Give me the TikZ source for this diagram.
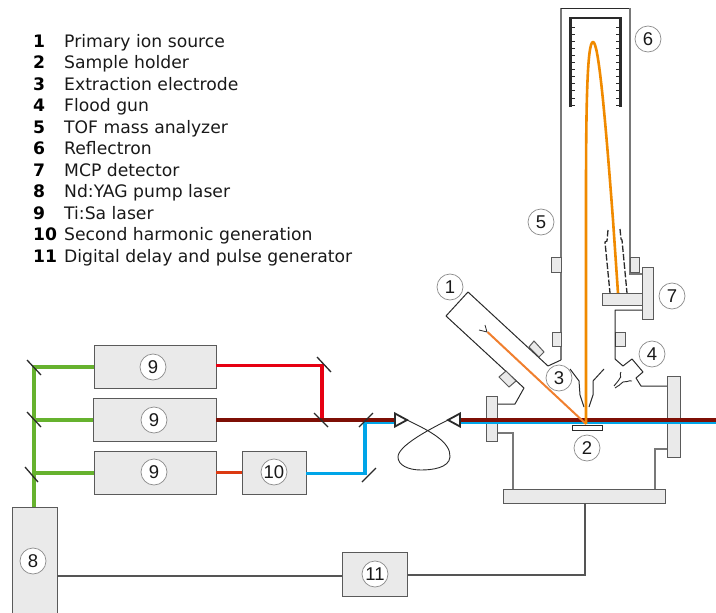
\documentclass[tikz,border=0pt]{standalone}
\usepackage{fontspec}
\setmainfont{DejaVu Sans}
\newfontfamily\numfont{Liberation Sans}
\definecolor{boxfill}{HTML}{EAEAEA}
\definecolor{boxline}{HTML}{5A5A5A}
\definecolor{wall}{HTML}{787878}
\definecolor{ink}{HTML}{2A2A2A}
\definecolor{tofor}{HTML}{F08A00}
\definecolor{ionor}{HTML}{F07F2E}
\definecolor{grn}{HTML}{66B22E}
\definecolor{redb}{HTML}{E60012}
\definecolor{dred}{HTML}{7E0F05}
\definecolor{blu}{HTML}{00A5E8}
\definecolor{shg}{HTML}{DC3A12}
\tikzset{
  boxn/.style={draw=boxline,fill=boxfill,line width=1pt,inner sep=0pt,outer sep=0pt},
  num/.style={circle,draw=gray!90,fill=white,line width=0.7pt,minimum size=26pt,inner sep=0pt,font=\numfont\fontsize{18.5}{18.5}\selectfont,text=black!90},
  wallline/.style={draw=wall,line width=1.5pt},
  thinline/.style={draw=ink,line width=1pt,line join=miter},
  conn/.style={draw=ink!80,line width=1.4pt},
  beam/.style={line width=3.8pt,line join=miter},
  mirror/.style={draw=ink,line width=1.3pt},
  legn/.style={anchor=base west,inner sep=0pt,font=\fontsize{17.2}{17.2}\selectfont,text=black!90},
  legk/.style={anchor=base west,inner sep=0pt,font=\bfseries\fontsize{17.2}{17.2}\selectfont,text=black},
  tri/.style={draw=ink,fill=white,line width=1.8pt,line join=miter},
  griddash/.style={draw=ink,line width=1.3pt,dash pattern=on 6.5pt off 2pt}
}
\newcommand{\rbox}[5]{\node[boxn,minimum width={(#4-#2)*1pt},minimum height={(#5-#3)*1pt}] (#1) at ({(#2+#4)/2},{(#3+#5)/2}) {};}
\begin{document}
\begin{tikzpicture}[x=1pt,y=-1pt]
\useasboundingbox (0,0) rectangle (716,613);
% legend
\foreach \k/\t/\y in {1/Primary ion source/47,2/Sample holder/68.5,3/Extraction electrode/90,4/Flood gun/111.5,5/TOF mass analyzer/133,6/Reflectron/154.5,7/MCP detector/176,8/Nd:YAG pump laser/197.5,9/Ti:Sa laser/219,10/Second harmonic generation/240.5,11/Digital delay and pulse generator/262}{
  \node[legk] (k\k) at (33,\y) {\k};
  \node[legn] (t\k) at (64,\y) {\t};
}
% vacuum tube
\coordinate (w1) at (561,360);
\coordinate (w2) at (561,8);
\coordinate (w3) at (630,8);
\coordinate (w4) at (630,274);
\coordinate (w5) at (642,274);
\draw[wallline] (w1) -- (561,258);
\draw[wallline] (561,258) -- (w2);
\draw[thinline] (w2) -- (w3);
\draw[wallline] (w3) -- (w4) -- (w5);
% small flanges on the tube
\rbox{f1}{551}{257}{561}{272}
\rbox{f2}{552}{332}{561}{346}
\rbox{f3}{630}{257}{639}{272}
\rbox{f4}{615}{332}{625}{346}
% reflectron
\draw[draw=ink,line width=2.4pt] (570.5,107) -- (570.5,18) -- (620.5,18) -- (620.5,107);
\foreach \n in {0,...,11}{
  \draw[draw=ink,line width=1pt] (570,{27+\n*7.1}) -- (575,{27+\n*7.1});
  \draw[draw=ink,line width=1pt] (621,{27+\n*7.1}) -- (616,{27+\n*7.1});
}
% ion source
\coordinate (s1) at (468,292);
\coordinate (s2) at (446,316);
\coordinate (s3) at (524,388);
\coordinate (s4) at (515,404);
\coordinate (s5) at (548,366);
\draw[thinline,line join=round] (w1) -- (s5) -- (s1) -- (s2) -- (s3) -- (s4) -- (497,404);
\draw[boxn] (534,341) -- (544,352) -- (539,357) -- (529,347) -- cycle;
\draw[boxn] (506,371) -- (516,381) -- (509,387) -- (499,377) -- cycle;
\draw[draw=ink,line width=0.8pt] (479,330) -- (487,332) -- (485,325);
% flood gun & right side
\draw[thinline,line join=round] (642,310) -- (615,310) -- (615,359) -- (623,366) -- (632,359) -- (643,372) -- (636,378) -- (641,386) -- (667,386);
\draw[draw=ink,line width=0.9pt] (621,372) .. controls (619,374) and (622,378) .. (620,378) .. controls (618,382) and (616,383) .. (614,386);
\draw[draw=ink,line width=0.9pt] (632,381) .. controls (628,380) and (626,383) .. (623,382) .. controls (620,384) and (618,387) .. (615,388);
% extraction electrode
\draw[thinline] (570,369) -- (579,381) -- (580,395) -- (584,407);
\draw[thinline] (604,369) -- (593,381) -- (593,395) -- (589,407);
% chamber
\draw[wallline] (667,449) -- (655,449) -- (655,489);
\draw[wallline] (497,433) -- (513,433) -- (513,489);
\rbox{detp}{602}{293}{642}{305}
\rbox{p7}{642}{267}{653}{319}
\rbox{pr}{667}{376}{680}{457}
\rbox{pl}{486}{396}{497}{441}
\rbox{pb}{503}{489}{665}{503}
\node[draw=ink,fill=white,line width=1pt,inner sep=0pt,minimum width=30pt,minimum height=4.5pt] (holder) at (587,428) {};
% detector grids
\draw[griddash] (608,230) -- (607,241) -- (605,242) -- (610,293);
\draw[griddash] (620,229) -- (621,239) -- (622,240) -- (627,293);
% control connectors
\rbox{b8}{12}{507}{57}{616}
\rbox{b11}{342}{552}{407}{596}
\draw[conn] (57,576) -- (b11.west |- 0,576);
\draw[conn] (407,575) -- (585,575) -- (pb.south -| 585,0);
% laser boxes
\rbox{b91}{94}{345}{216}{388}
\rbox{b92}{93}{398}{216}{441}
\rbox{b93}{94}{451}{216}{494}
\rbox{b10}{242}{451}{306}{494}
% beams
\draw[beam,grn] (34,507) -- (34,367) -- (b91.west |- 0,367);
\draw[beam,grn] (34,420) -- (b92.west |- 0,420);
\draw[beam,grn] (34,473) -- (b93.west |- 0,473);
\draw[line width=3pt,shg] (216,472.5) -- (242,472.5);
\draw[beam,blu] (306,473.5) -- (365,473.5) -- (365,422) -- (397,422);
\draw[beam,redb] (216,365.5) -- (322,365.5) -- (322,420);
\draw[beam,dred] (216,420) -- (397,420);
\coordinate (outl) at (716,420);
\draw[line width=2pt,blu] (455,423) -- (716,423);
\draw[line width=4pt,dred] (455,420) -- (outl);
% mirrors
\draw[mirror] (27,360) -- (41,375);
\draw[mirror] (27,412) -- (41,427);
\draw[mirror] (25,467) -- (38,482);
\draw[mirror] (317,357) -- (331,372);
\draw[mirror] (314,413) -- (328,427);
\draw[mirror] (359,427) -- (373,413);
\draw[mirror] (362,482) -- (376,468);
% fibre
\coordinate (fa) at (407,420);
\coordinate (fb) at (448,420);
\draw[draw=ink,line width=0.9pt] (fa) .. controls (430,431) and (451,442) .. (450,457) .. controls (449,468) and (432,470) .. (421,470) .. controls (408,470) and (398,465) .. (398,457) .. controls (398,446) and (428,430) .. (fb);
\draw[tri] (395,413.5) -- (395,426.5) -- (407,420) -- cycle;
\draw[tri] (460,413.5) -- (460,426.5) -- (448,420) -- cycle;
% ion paths
\coordinate (hit) at (586,424);
\draw[line width=2pt,ionor] (487.5,332) -- (hit);
\draw[line width=2.6pt,tofor,line join=round] (hit) -- (586,200) .. controls (586,110) and (587,42) .. (593,42) .. controls (598,42) and (604,100) .. (613,220) -- (detp.north -| 618,0);
% numbers
\node[num] (n1) at (450,287) {1};
\node[num] (n2) at (587,448) {2};
\node[num] (n3) at (559,378) {3};
\node[num] (n4) at (652,354) {4};
\node[num] (n5) at (541,222) {5};
\node[num] (n6) at (648,39) {6};
\node[num] (n7) at (672,296) {7};
\node[num] (n8) at (33,561) {8};
\node[num] (n91) at (153,367) {9};
\node[num] (n92) at (154,420) {9};
\node[num] (n93) at (154,472) {9};
\node[num] (n10) at (274,472) {10};
\node[num] (n11) at (375,574) {11};
\end{tikzpicture}
\end{document}
